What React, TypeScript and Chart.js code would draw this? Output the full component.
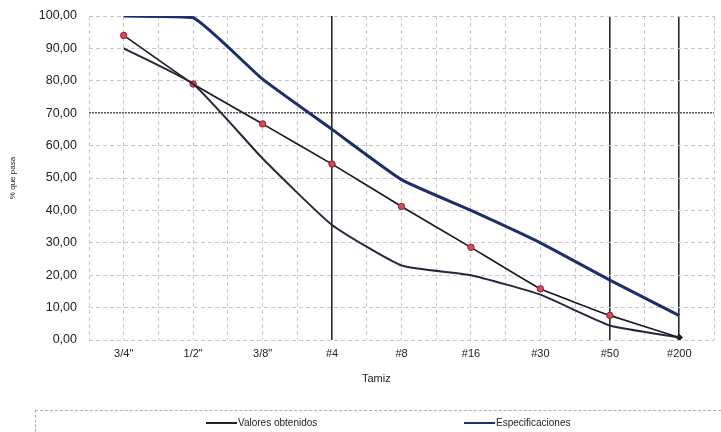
import React, { useEffect, useRef } from 'react';
import { Chart, registerables } from 'chart.js';

Chart.register(...registerables);

const categories = ['3/4"', '1/2"', '3/8"', '#4', '#8', '#16', '#30', '#50', '#200'];
const valoresObtenidos = [94, 79, 66.7, 54.3, 41.2, 28.6, 15.8, 7.6, 0.8];
const especSuperior = [100, 99.5, 80.5, 65, 49.5, 40, 30, 18.5, 7.5];
const especInferior = [90, 79, 56, 35.5, 23, 20, 14, 4.5, 0.8];
const yMin = 0;
const yMax = 100;
const yStep = 10;
const darkVerticalAt = ['#4', '#50', '#200'];
const darkHorizontalAt = [70];

const FONT = "'Liberation Sans', Arial, sans-serif";
const LIGHT = '#c8c8c8';
const DARK = '#2a2a2a';

export default function App() {
  const ref = useRef<HTMLCanvasElement | null>(null);

  useEffect(() => {
    const canvas = ref.current;
    if (!canvas) return;
    const darkIdx = darkVerticalAt.map((c) => categories.indexOf(c));
    const lastIdx = valoresObtenidos.length - 1;
    const chart = new Chart(canvas, {
      type: 'line',
      data: {
        labels: categories,
        datasets: [
          {
            label: 'Especificaciones',
            data: especSuperior,
            borderColor: '#1d2f6b',
            borderWidth: 3,
            pointRadius: 0,
            tension: 0.15,
            xAxisID: 'x',
            yAxisID: 'y',
          },
          {
            label: 'Especificaciones (inf)',
            data: especInferior,
            borderColor: '#23283a',
            borderWidth: 2,
            pointRadius: 0,
            tension: 0.15,
            xAxisID: 'x',
            yAxisID: 'y',
          },
          {
            label: 'Valores obtenidos',
            data: valoresObtenidos,
            borderColor: '#1a1a1a',
            borderWidth: 1.6,
            tension: 0.1,
            pointRadius: 3.2,
            pointStyle: valoresObtenidos.map((_, i) => (i === lastIdx ? 'rectRot' : 'circle')),
            pointBackgroundColor: valoresObtenidos.map((_, i) => (i === lastIdx ? '#222' : '#d9475a')),
            pointBorderColor: valoresObtenidos.map((_, i) => (i === lastIdx ? '#222' : '#8a2030')),
            pointBorderWidth: 1,
            xAxisID: 'x',
            yAxisID: 'y',
          },
        ],
      },
      options: {
        animation: false,
        responsive: false,
        maintainAspectRatio: false,
        layout: { padding: { top: 16, right: 7, left: 0, bottom: 0 } },
        plugins: {
          legend: { display: false },
          tooltip: { enabled: false },
        },
        scales: {
          x: {
            type: 'category',
            offset: true,
            grid: { display: false, drawTicks: false },
            border: { display: false },
            ticks: {
              padding: 7,
              color: '#222',
              font: { family: FONT, size: 11 },
              maxRotation: 0,
              autoSkip: false,
            },
            afterFit: (s: any) => {
              s.height = 92;
            },
          },
          xGrid: {
            type: 'linear',
            position: 'bottom',
            min: -0.5,
            max: categories.length - 0.5,
            ticks: { display: false, stepSize: 0.5 },
            grid: {
              drawTicks: false,
              color: (ctx: any) => (darkIdx.includes(ctx.tick?.value) ? DARK : LIGHT),
              lineWidth: (ctx: any) => (darkIdx.includes(ctx.tick?.value) ? 1.6 : 1),
            },
            border: {
              display: false,
              dash: (ctx: any) => (darkIdx.includes(ctx.tick?.value) ? [] : [4, 3]),
            },
            afterFit: (s: any) => {
              s.height = 0;
            },
          },
          y: {
            type: 'linear',
            min: yMin,
            max: yMax,
            ticks: {
              stepSize: yStep,
              padding: 4,
              color: '#222',
              font: { family: FONT, size: 12.5 },
              callback: (v: any) => Number(v).toFixed(2).replace('.', ','),
            },
            grid: {
              drawTicks: true,
              tickLength: 8,
              tickColor: 'rgba(0,0,0,0)',
              color: (ctx: any) => (darkHorizontalAt.includes(ctx.tick?.value) ? '#555' : LIGHT),
              lineWidth: (ctx: any) => (darkHorizontalAt.includes(ctx.tick?.value) ? 1.6 : 1),
            },
            border: {
              display: false,
              dash: (ctx: any) => (darkHorizontalAt.includes(ctx.tick?.value) ? [2, 1] : [4, 3]),
            },
            title: {
              display: true,
              text: '% que pasa',
              color: '#222',
              font: { family: FONT, size: 8 },
              padding: { top: 8, bottom: 0 },
            },
            afterFit: (s: any) => {
              s.width = 89;
            },
          },
        },
      },
    });
    return () => chart.destroy();
  }, []);

  const legendText: React.CSSProperties = {
    position: 'absolute',
    top: 416,
    fontFamily: FONT,
    fontSize: 10,
    lineHeight: '14px',
    color: '#222',
    whiteSpace: 'nowrap',
  };

  return (
    <div
      style={{
        position: 'fixed',
        left: 0,
        top: 0,
        width: 721,
        height: 432,
        background: '#fff',
        overflow: 'hidden',
      }}
    >
      <canvas ref={ref} width={721} height={432} style={{ display: 'block' }} />
      <div
        style={{
          position: 'absolute',
          left: 362,
          top: 371,
          fontFamily: FONT,
          fontSize: 11,
          lineHeight: '14px',
          color: '#222',
        }}
      >
        Tamiz
      </div>
      <div
        style={{
          position: 'absolute',
          left: 35,
          top: 410,
          width: 700,
          height: 40,
          borderTop: '1px dashed #b0b0b0',
          borderLeft: '1px dashed #b0b0b0',
        }}
      />
      <div style={{ position: 'absolute', left: 206, top: 422, width: 31, height: 2, background: '#222' }} />
      <div style={{ ...legendText, left: 238 }}>Valores obtenidos</div>
      <div style={{ position: 'absolute', left: 464, top: 422, width: 31, height: 2, background: '#1d2f6b' }} />
      <div style={{ ...legendText, left: 496 }}>Especificaciones</div>
    </div>
  );
}
